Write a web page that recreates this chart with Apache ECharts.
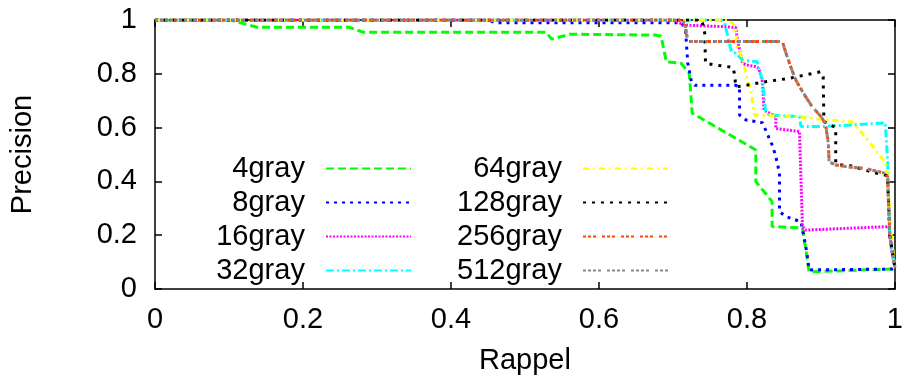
<!DOCTYPE html>
<html>
<head>
<meta charset="utf-8">
<script src="https://cdn.jsdelivr.net/npm/echarts@6/dist/echarts.min.js"></script>
<style>
  html, body { margin: 0; padding: 0; background: #fff; }
  #chart { width: 906px; height: 387px; }
</style>
</head>
<body>
<div id="chart"></div>
<script>
// [rappel, precision] pairs
const gray4 = [[0, 1], [0.102, 1], [0.138, 0.973], [0.262, 0.973], [0.282, 0.954], [0.529, 0.954], [0.536, 0.929], [0.561, 0.947], [0.675, 0.944], [0.684, 0.94], [0.691, 0.845], [0.711, 0.839], [0.722, 0.803], [0.726, 0.654], [0.812, 0.517], [0.812, 0.399], [0.834, 0.325], [0.834, 0.232], [0.875, 0.227], [0.881, 0.12], [0.884, 0.064], [0.996, 0.074], [1, 0.08]]
const gray8 = [[0, 1], [0.45, 1], [0.46, 0.99], [0.712, 0.99], [0.717, 0.96], [0.72, 0.84], [0.725, 0.77], [0.73, 0.757], [0.785, 0.757], [0.79, 0.75], [0.79, 0.647], [0.799, 0.628], [0.821, 0.618], [0.835, 0.529], [0.839, 0.492], [0.844, 0.431], [0.844, 0.287], [0.853, 0.269], [0.873, 0.25], [0.877, 0.194], [0.881, 0.134], [0.884, 0.071], [0.996, 0.074], [1, 0.08]]
const gray16 = [[0, 1], [0.7, 1], [0.716, 0.981], [0.771, 0.975], [0.785, 0.972], [0.787, 0.926], [0.794, 0.84], [0.799, 0.833], [0.812, 0.827], [0.816, 0.82], [0.821, 0.77], [0.823, 0.665], [0.839, 0.641], [0.839, 0.597], [0.871, 0.585], [0.873, 0.579], [0.875, 0.232], [0.879, 0.219], [0.992, 0.232], [0.995, 0.15], [1, 0.08]]
const gray32 = [[0, 1], [0.765, 1], [0.77, 0.988], [0.772, 0.963], [0.779, 0.882], [0.785, 0.876], [0.794, 0.851], [0.814, 0.845], [0.816, 0.82], [0.821, 0.777], [0.825, 0.665], [0.83, 0.647], [0.871, 0.641], [0.873, 0.604], [0.904, 0.604], [0.987, 0.617], [0.99, 0.48], [0.993, 0.2], [1, 0.08]]
const gray64 = [[0, 1], [0.775, 1], [0.783, 0.981], [0.785, 0.95], [0.787, 0.901], [0.794, 0.858], [0.799, 0.796], [0.805, 0.74], [0.808, 0.69], [0.81, 0.647], [0.866, 0.641], [0.911, 0.628], [0.942, 0.622], [0.96, 0.566], [0.987, 0.47], [0.99, 0.42], [0.995, 0.2], [1, 0.08]]
const gray128 = [[0, 1], [0.738, 1], [0.74, 0.988], [0.743, 0.95], [0.744, 0.839], [0.756, 0.833], [0.781, 0.824], [0.783, 0.802], [0.785, 0.752], [0.794, 0.755], [0.826, 0.771], [0.857, 0.783], [0.9, 0.808], [0.903, 0.789], [0.904, 0.622], [0.92, 0.6], [0.92, 0.468], [0.924, 0.461], [0.936, 0.461], [0.96, 0.442], [0.976, 0.43], [0.987, 0.424], [0.99, 0.418], [0.993, 0.2], [1, 0.08]]
const gray256 = [[0, 1], [0.712, 1], [0.716, 0.988], [0.72, 0.92], [0.848, 0.92], [0.852, 0.883], [0.859, 0.827], [0.866, 0.777], [0.875, 0.734], [0.888, 0.678], [0.9, 0.641], [0.906, 0.616], [0.91, 0.542], [0.911, 0.473], [0.92, 0.461], [0.933, 0.455], [0.96, 0.448], [0.987, 0.43], [0.99, 0.418], [0.993, 0.2], [1, 0.08]]
const gray512 = [[0, 1], [0.712, 1], [0.716, 0.988], [0.72, 0.92], [0.848, 0.92], [0.852, 0.883], [0.859, 0.827], [0.866, 0.777], [0.875, 0.734], [0.888, 0.678], [0.9, 0.641], [0.906, 0.616], [0.91, 0.542], [0.911, 0.473], [0.92, 0.461], [0.933, 0.455], [0.96, 0.448], [0.987, 0.43], [0.99, 0.418], [0.993, 0.2], [1, 0.08]]

const names = ['4gray', '8gray', '16gray', '32gray', '64gray', '128gray', '256gray', '512gray']
const curves = [gray4, gray8, gray16, gray32, gray64, gray128, gray256, gray512]
const colors = ['#00ff00', '#0000ff', '#ff00ff', '#00ffff', '#ffff00', '#000000', '#ff4500', '#888888']
const dashes = [
  [8, 4],
  [3, 5],
  [2, 1.5],
  [8, 3, 2, 3],
  [6, 4, 2, 4],
  [3, 6],
  [3, 2, 3, 2, 3, 6],
  [3, 2, 3, 2, 3, 2, 3, 6]
]

const font = 'Liberation Sans'
const fsize = 29

// box-style axes, ticks inside like gnuplot
const baseAxis = {
  type: 'value',
  min: 0,
  max: 1,
  interval: 0.2,
  splitLine: { show: false },
  axisLine: { show: true, onZero: false, lineStyle: { color: '#000', width: 1.5 } },
  axisTick: { show: true, inside: true, length: 7, lineStyle: { color: '#000', width: 1.5 } },
}

const legendCommon = {
  orient: 'vertical',
  align: 'right',
  itemWidth: 85,
  itemHeight: 14,
  itemGap: 5,
  padding: 0,
  selectedMode: false,
  itemStyle: { opacity: 0 },
  formatter: (name) => name + '  ',
  textStyle: { fontFamily: font, fontSize: fsize, color: '#000' }
}

const chart = echarts.init(document.getElementById('chart'), null, { renderer: 'canvas' })
chart.setOption({
  animation: false,
  backgroundColor: '#fff',
  grid: { left: 154, right: 10, top: 20, bottom: 98 },
  legend: [
    Object.assign({ data: names.slice(0, 4), right: 494, top: 154 }, legendCommon),
    Object.assign({ data: names.slice(4), right: 237, top: 154 }, legendCommon)
  ],
  xAxis: [
    Object.assign({}, baseAxis, {
      position: 'bottom',
      name: 'Rappel',
      nameLocation: 'middle',
      nameGap: 57,
      nameTextStyle: { fontFamily: font, fontSize: fsize, color: '#000' },
      axisLabel: { margin: 16, fontFamily: font, fontSize: fsize, color: '#000' }
    }),
    Object.assign({}, baseAxis, { position: 'top', axisLabel: { show: false } })
  ],
  yAxis: [
    Object.assign({}, baseAxis, {
      position: 'left',
      name: 'Precision',
      nameLocation: 'middle',
      nameGap: 118,
      nameRotate: 90,
      nameTextStyle: { fontFamily: font, fontSize: fsize, color: '#000' },
      axisLabel: { margin: 18, fontFamily: font, fontSize: fsize, color: '#000' }
    }),
    Object.assign({}, baseAxis, { position: 'right', axisLabel: { show: false } })
  ],
  series: names.map((name, i) => ({
    name,
    type: 'line',
    data: curves[i],
    symbol: 'none',
    color: colors[i],
    lineStyle: { color: colors[i], width: 3, type: dashes[i] }
  }))
})
</script>
</body>
</html>
